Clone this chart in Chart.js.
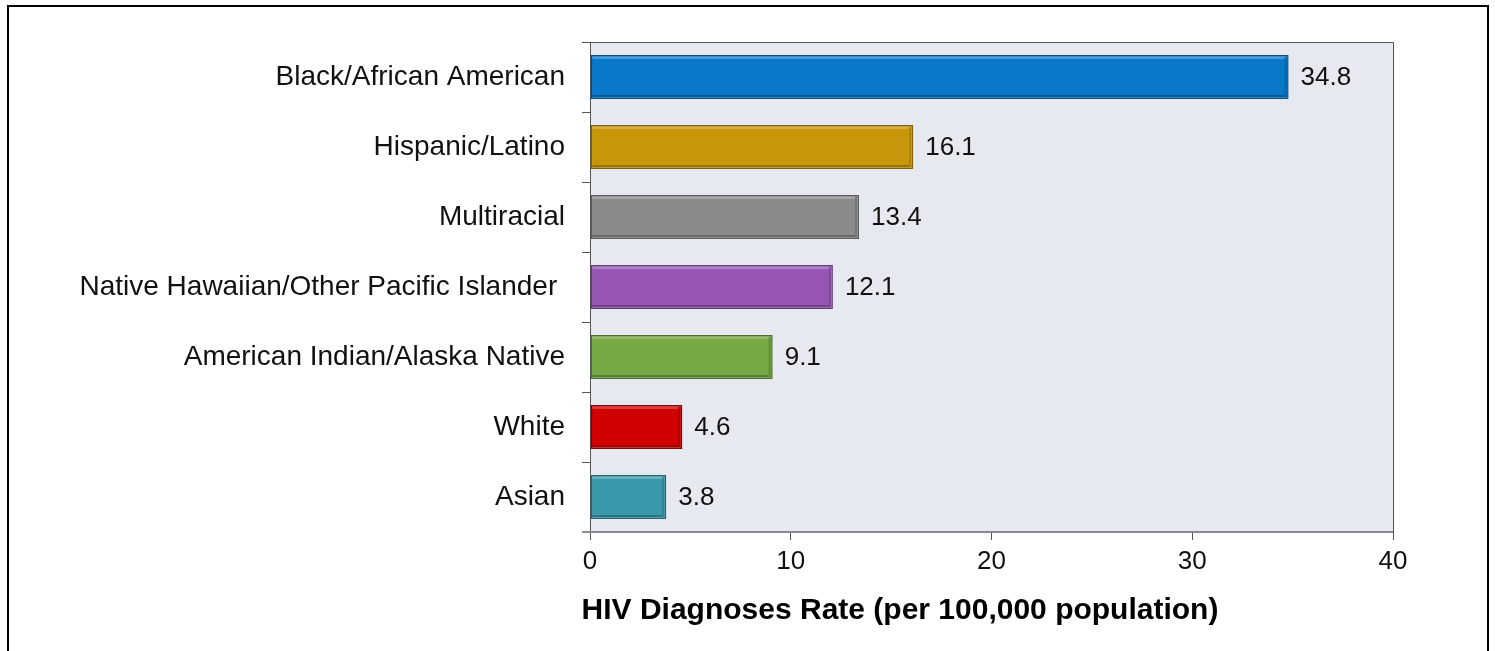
<!DOCTYPE html>
<html>
<head>
<meta charset="utf-8">
<script src="https://cdn.jsdelivr.net/npm/chart.js@4/dist/chart.umd.min.js"></script>
<style>
	body { margin: 0; background: #fff; }
	#frame { position: absolute; left: 7px; top: 5px; width: 1478px; height: 700px; border: 2px solid #000; border-bottom: none; }
	#container { position: absolute; left: 0; top: 0; width: 1495px; height: 651px; }
</style>
</head>
<body>
<div id="frame"></div>
<div id="container"><canvas id="chart" width="1495" height="651"></canvas></div>
<script>
/// données du graphique
const categories = [
	"Black/African American",
	"Hispanic/Latino",
	"Multiracial",
	"Native Hawaiian/Other Pacific Islander ",
	"American Indian/Alaska Native",
	"White",
	"Asian"
]
const rates = [34.8, 16.1, 13.4, 12.1, 9.1, 4.6, 3.8]
const barColors = ["#0a78c8", "#c8960a", "#8a8a8a", "#9856b4", "#76a844", "#d00000", "#3a9aac"]
const xTicks = [0, 10, 20, 30, 40]
const axisTitle = "HIV Diagnoses Rate (per 100,000 population)"

const fontFamily = "'Liberation Sans', Arial, sans-serif"

const shade = function(hex, amount) {
	const n = parseInt(hex.slice(1), 16)
	let r = (n >> 16) & 255, g = (n >> 8) & 255, b = n & 255
	const f = c => Math.max(0, Math.min(255, Math.round(amount < 0 ? c * (1 + amount) : c + (255 - c) * amount)))
	return `rgb(${f(r)},${f(g)},${f(b)})`
}

// fond gris-bleu + bordures de la zone de tracé
const plotArea = {
	id: "plotArea",
	beforeDraw(chart) {
		const { ctx, chartArea: a } = chart
		ctx.save()
		ctx.fillStyle = "#e6e9f0"
		ctx.fillRect(a.left, a.top, a.right - a.left, a.bottom - a.top)
		ctx.strokeStyle = "#555"
		ctx.lineWidth = 1
		ctx.beginPath()
		ctx.moveTo(a.left - 8, a.top + 0.5)
		ctx.lineTo(a.right + 0.5, a.top + 0.5)
		ctx.lineTo(a.right + 0.5, a.bottom)
		ctx.stroke()
		ctx.restore()
	},
	afterDraw(chart) {
		const { ctx, chartArea: a } = chart
		ctx.save()
		ctx.strokeStyle = "#8a8a8a"
		ctx.lineWidth = 2
		ctx.beginPath()
		ctx.moveTo(a.left - 8, a.bottom)
		ctx.lineTo(a.right, a.bottom)
		ctx.stroke()
		ctx.fillStyle = "#000"
		ctx.font = "bold 30px " + fontFamily
		ctx.textAlign = "center"
		ctx.textBaseline = "middle"
		ctx.fillText(axisTitle, 900, 611)
		ctx.restore()
	}
}

// effet biseauté + étiquettes de valeur
const barDecor = {
	id: "barDecor",
	afterDatasetsDraw(chart) {
		const { ctx } = chart
		const meta = chart.getDatasetMeta(0)
		ctx.save()
		meta.data.forEach((bar, i) => {
			const left = Math.min(bar.base, bar.x), right = Math.max(bar.base, bar.x)
			const top = bar.y - bar.height / 2, bottom = bar.y + bar.height / 2
			const c = barColors[i]
			ctx.fillStyle = shade(c, 0.25)
			ctx.fillRect(left + 2, top + 2, right - left - 4, 2)
			ctx.fillStyle = shade(c, -0.25)
			ctx.fillRect(left + 2, bottom - 4, right - left - 4, 2)
			ctx.fillStyle = shade(c, -0.15)
			ctx.fillRect(right - 4, top + 2, 2, bottom - top - 4)

			ctx.fillStyle = "#111"
			ctx.font = "26px " + fontFamily
			ctx.textAlign = "left"
			ctx.textBaseline = "middle"
			ctx.fillText(rates[i].toFixed(1), right + 12, bar.y + 1)
		})
		ctx.restore()
	}
}

new Chart(document.getElementById("chart"), {
	type: "bar",
	data: {
		labels: categories,
		datasets: [{
			data: rates,
			backgroundColor: barColors,
			borderColor: barColors.map(c => shade(c, -0.35)),
			borderWidth: 1.5,
			borderSkipped: false,
			categoryPercentage: 1,
			barPercentage: 0.63
		}]
	},
	options: {
		indexAxis: "y",
		responsive: false,
		animation: false,
		devicePixelRatio: 1,
		layout: { padding: { top: 42, right: 102, left: 0, bottom: 0 } },
		plugins: { legend: { display: false }, tooltip: { enabled: false } },
		scales: {
			x: {
				min: 0, max: 40,
				afterBuildTicks: scale => { scale.ticks = xTicks.map(v => ({ value: v })) },
				afterFit: scale => { scale.height = 119 },
				grid: { drawOnChartArea: false, color: "#555", tickLength: 8 },
				border: { display: false },
				ticks: { color: "#111", font: { size: 26, family: fontFamily }, padding: 6 }
			},
			y: {
				afterFit: scale => { scale.width = 590 },
				grid: { drawOnChartArea: false, color: "#555", tickLength: 8, offset: true },
				border: { display: true, color: "#555", width: 1 },
				ticks: { color: "#111", font: { size: 28, family: fontFamily }, padding: 17 }
			}
		}
	},
	plugins: [plotArea, barDecor]
})
</script>
</body>
</html>
